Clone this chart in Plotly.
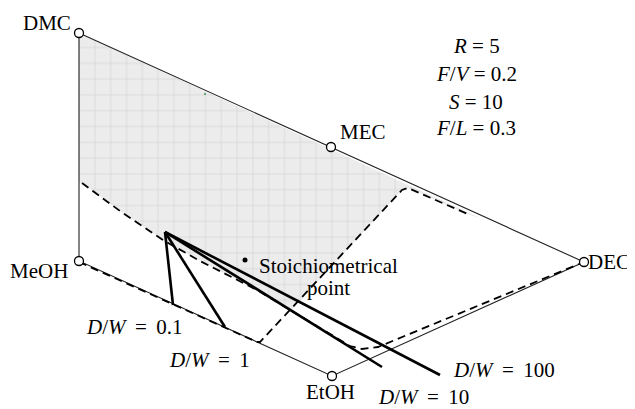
import plotly.graph_objects as go

# Diagram coordinates (screen-like units, y grows downwards)
vertex_names = ["DMC", "MEC", "DEC", "EtOH", "MeOH"]
vertex_x = [79, 331, 584, 332, 79]
vertex_y = [33, 147, 262, 376, 261]

# outline of the composition space
outline_x = [79, 584, 332, 79, 79]
outline_y = [33, 262, 376, 261, 33]

# shaded (feasible) region
region_x = [79, 480, 470, 408, 402, 291, 257, 200, 163, 120, 82, 79]
region_y = [33, 218, 215, 188, 190, 311, 290, 261, 240, 211, 183, 183]

# dashed boundary A (upper-left to DEC)
bound_a_x = [82, 120, 163, 200, 257, 297, 327, 350, 362, 378, 584]
bound_a_y = [183, 211, 240, 261, 290, 314, 332, 346, 349, 347, 262]

# dashed boundary B (MeOH along edge, then up to top edge)
bound_b_x = [79, 257, 260, 402, 408, 470]
bound_b_y = [262, 342, 342, 190, 188, 215]

# distillate/bottom profiles for each D/W
apex = (165, 232)
dw_labels = ["0.1", "1", "10", "100"]
dw_end_x = [173, 225, 382, 440]
dw_end_y = [305, 327, 367, 375]

stoich_x, stoich_y = 245, 260

params = ["<i>R</i> = 5", "<i>F</i>/<i>V</i> = 0.2", "<i>S</i> = 10", "<i>F</i>/<i>L</i> = 0.3"]
params_y = [46, 74, 102, 128]

font = dict(family="Times New Roman, Liberation Serif, serif", size=21, color="black")

fig = go.Figure()

fig.add_trace(go.Scatter(
    x=region_x, y=region_y, mode="lines", fill="toself",
    fillcolor="#ececec", line=dict(width=0),
    fillpattern=dict(shape="+", size=15.8, fgcolor="#c4c4c4",
                     bgcolor="#ececec", solidity=0.12),
    hoverinfo="skip"))

fig.add_trace(go.Scatter(x=outline_x, y=outline_y, mode="lines",
                         line=dict(color="#222", width=1.1)))

fig.add_trace(go.Scatter(x=bound_a_x, y=bound_a_y, mode="lines",
                         line=dict(color="black", width=1.8, dash="8px,5px")))
fig.add_trace(go.Scatter(x=bound_b_x, y=bound_b_y, mode="lines",
                         line=dict(color="black", width=1.8, dash="8px,5px")))

for ex, ey in zip(dw_end_x, dw_end_y):
    fig.add_trace(go.Scatter(x=[apex[0], ex], y=[apex[1], ey], mode="lines",
                             line=dict(color="black", width=2.6)))

fig.add_trace(go.Scatter(x=vertex_x, y=vertex_y, mode="markers",
                         marker=dict(symbol="circle", size=9, color="white",
                                     line=dict(color="black", width=1.3))))

fig.add_trace(go.Scatter(x=[stoich_x], y=[stoich_y], mode="markers",
                         marker=dict(size=5, color="black")))
fig.add_trace(go.Scatter(x=[205], y=[94], mode="markers",
                         marker=dict(size=2, color="#3a9a5a")))

ann = []
def label(text, x, y, xa="center"):
    ann.append(dict(text=text, x=x, y=y, xref="x", yref="y", showarrow=False,
                    xanchor=xa, yanchor="middle", font=font))

label("DMC", 73, 23, "right")
label("MEC", 338, 132, "left")
label("MeOH", 70, 271, "right")
label("DEC", 586, 262, "left")
label("EtOH", 330, 392)
label("Stoichiometrical", 328, 266)
label("point", 328, 288)

sp = "\u00a0\u2009"
dw_pos = [(84, 327), (167, 360), (376, 397), (451, 370)]
for lab, (lx, ly) in zip(dw_labels, dw_pos):
    label("<i>D</i>/<i>W</i>" + sp + "=" + sp + lab, lx, ly, "left")

for t, py in zip(params, params_y):
    label(t, 476, py)

# the page body adds an 8px margin, so the figure starts at (8, 8);
# the figure is left full size so nothing gets cut at the window edge
fig.update_layout(
    width=635, height=409, margin=dict(l=0, r=0, t=0, b=0),
    plot_bgcolor="white", paper_bgcolor="white", showlegend=False,
    xaxis=dict(range=[8, 643], visible=False, fixedrange=True),
    yaxis=dict(range=[417, 8], visible=False, fixedrange=True),
    annotations=ann)

fig.write_html("out.html")
